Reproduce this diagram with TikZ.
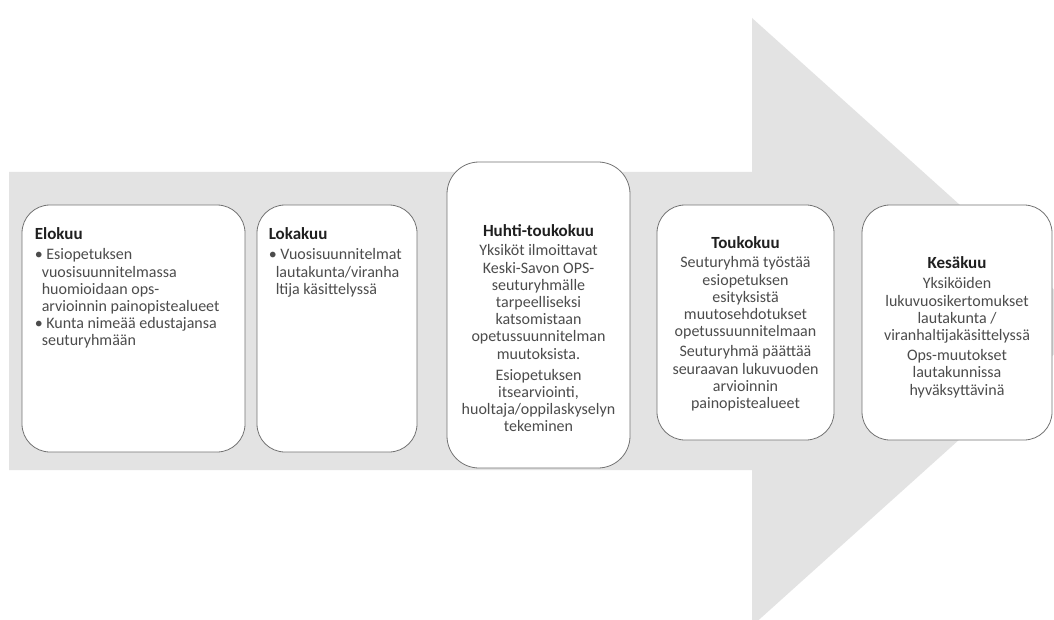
\documentclass[tikz,border=0pt]{standalone}
\usepackage{fontspec}
\setmainfont{Carlito}
\begin{document}
\begin{tikzpicture}[x=1pt,y=-1pt,
  card/.style={draw=black!55, line width=0.8pt, fill=white, rounded corners=28pt, inner sep=0pt},
  cardtext/.style={text=black!70, font=\fontsize{16}{17.2}\selectfont, inner sep=0pt},
  ttl/.style={font=\fontsize{17}{17.2}\selectfont\bfseries, text=black!88}]
\useasboundingbox (0,0) rectangle (1054,620);
\clip (0,0) rectangle (1054,620);
\fill[white] (0,0) rectangle (1054,620);
% big arrow
\fill[black!11] (9,172) -- (752,172) -- (752,18) -- (1090,322) -- (752,626) -- (752,470) -- (9,470) -- cycle;
% cards
\node[card, minimum width=223pt, minimum height=247pt] (elo) at (133.5,328.5) {};
\node[card, minimum width=160pt, minimum height=247pt] (loka) at (337,328.5) {};
\node[card, minimum width=183pt, minimum height=306pt, rounded corners=32pt] (huhti) at (538.5,315) {};
\node[card, minimum width=177pt, minimum height=235pt] (touko) at (745.5,322.5) {};
\node[card, minimum width=190pt, minimum height=235pt] (kesa) at (957,322.5) {};
% texts
\node[cardtext, anchor=north west, align=left] (elot) at ([xshift=13pt,yshift=-23pt]elo.north west)
 {{\bfseries\color{black!88}\fontsize{17}{17.2}\selectfont Elokuu}\\[3pt]
  \textbullet\ Esiopetuksen\\
  \hspace*{7pt}vuosisuunnitelmassa\\
  \hspace*{7pt}huomioidaan ops-\\
  \hspace*{7pt}arvioinnin painopistealueet\\
  \textbullet\ Kunta nimeää edustajansa\\
  \hspace*{7pt}seuturyhmään};
\node[cardtext, anchor=north west, align=left] (lokat) at ([xshift=12pt,yshift=-23pt]loka.north west)
 {{\bfseries\color{black!88}\fontsize{17}{17.2}\selectfont Lokakuu}\\[3pt]
  \textbullet\ Vuosisuunnitelmat\\
  \hspace*{7pt}lautakunta/viranha\\
  \hspace*{7pt}ltija käsittelyssä};
\node[cardtext, anchor=north, align=center] (huhtit) at ([yshift=-63pt]huhti.north)
 {{\bfseries\color{black!88}\fontsize{17}{17.2}\selectfont Huhti-toukokuu}\\[2pt]
  Yksiköt ilmoittavat\\ Keski-Savon OPS-\\ seuturyhmälle\\ tarpeelliseksi\\ katsomistaan\\
  opetussuunnitelman\\ muutoksista.\\[4pt]
  Esiopetuksen\\ itsearviointi,\\ huoltaja/oppilaskyselyn\\ tekeminen};
\node[cardtext, anchor=north, align=center] (toukot) at ([yshift=-32pt]touko.north)
 {{\bfseries\color{black!88}\fontsize{17}{17.2}\selectfont Toukokuu}\\[2pt]
  Seuturyhmä työstää\\ esiopetuksen\\ esityksistä\\ muutosehdotukset\\ opetussuunnitelmaan\\[3pt]
  Seuturyhmä päättää\\ seuraavan lukuvuoden\\ arvioinnin\\ painopistealueet};
\node[cardtext, anchor=north, align=center] (kesat) at ([yshift=-52pt]kesa.north)
 {{\bfseries\color{black!88}\fontsize{17}{17.2}\selectfont Kesäkuu}\\[3pt]
  Yksiköiden\\ lukuvuosikertomukset\\ lautakunta /\\ viranhaltijakäsittelyssä\\[3pt]
  Ops-muutokset\\ lautakunnissa\\ hyväksyttävinä};
\end{tikzpicture}
\end{document}
